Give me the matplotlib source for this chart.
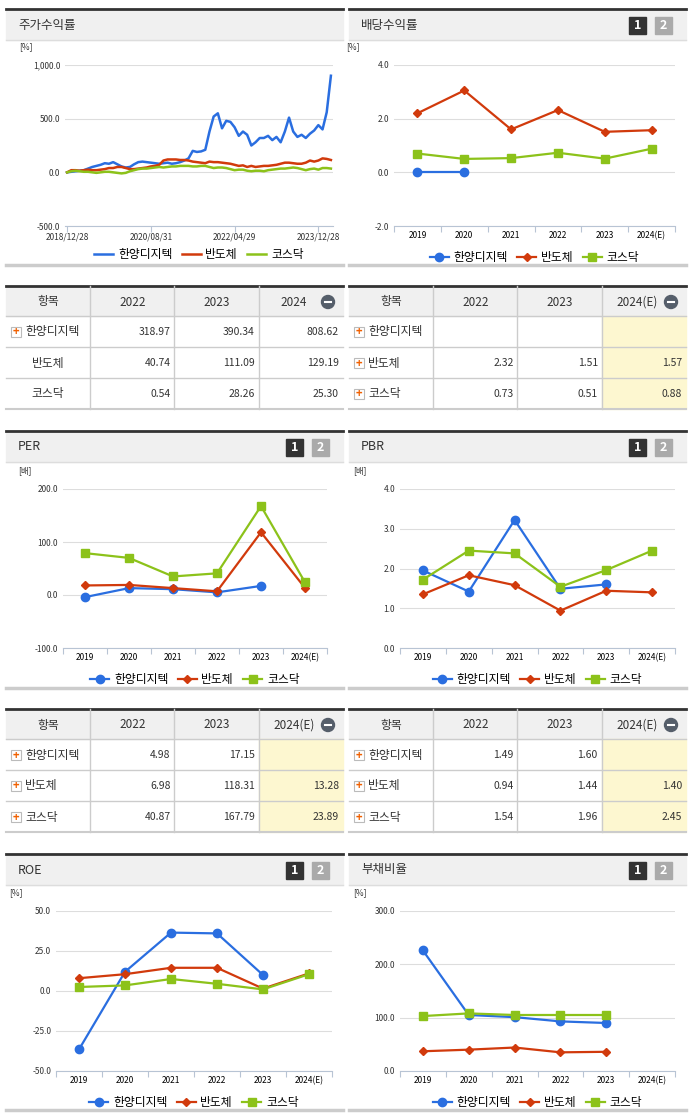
import numpy as np
import matplotlib
matplotlib.use('Agg')
import matplotlib.pyplot as plt
from matplotlib.patches import Rectangle, Circle

plt.rcParams['font.family'] = ['Noto Sans CJK KR', 'DejaVu Sans']

W, H = 691, 1115
names = ['한양디지텍', '반도체', '코스닥']
colors = ['#2a6ee0', '#d13a0c', '#8cc21a']
markers = ['o', 'D', 's']
years = ['2019', '2020', '2021', '2022', '2023', '2024(E)']

# stock return (%)
ret_hy = [0, 5, 10, 15, 20, 35, 50, 60, 70, 85, 80, 95, 75, 55, 45, 50, 75, 95, 100, 95,
          90, 85, 80, 85, 90, 80, 85, 95, 110, 130, 200, 190, 195, 210, 380, 520, 550, 410, 480, 470,
          420, 340, 380, 350, 250, 280, 320, 320, 340, 300, 330, 280, 380, 510, 380, 330, 350, 320, 360, 390,
          440, 400, 560, 900]
ret_semi = [0, 20, 20, 15, 20, 25, 20, 20, 25, 30, 40, 40, 50, 50, 40, 30, 30, 35, 40, 45,
            55, 60, 70, 110, 120, 120, 120, 115, 115, 110, 100, 95, 90, 85, 100, 95, 95, 90, 85, 80,
            70, 60, 65, 50, 60, 50, 55, 60, 60, 65, 70, 80, 90, 90, 85, 80, 80, 90, 110, 100,
            110, 130, 125, 115]
ret_kq = [0, 10, 15, 10, 5, 5, 0, -5, 0, 5, 5, 0, -5, -10, -5, 10, 20, 30, 35, 35,
          40, 45, 50, 45, 50, 55, 55, 60, 60, 60, 55, 55, 60, 60, 50, 40, 45, 45, 40, 30,
          20, 25, 25, 15, 10, 15, 15, 10, 20, 25, 30, 35, 35, 40, 45, 40, 30, 20, 30, 35,
          25, 40, 40, 35]
ret_ticks = [0, 20, 40, 60]
ret_tick_labels = ['2018/12/28', '2020/08/31', '2022/04/29', '2023/12/28']

nan = np.nan
div = [[0, 0, nan, nan, nan, nan], [2.2, 3.05, 1.6, 2.32, 1.51, 1.57], [0.7, 0.5, 0.53, 0.73, 0.51, 0.88]]
per = [[-4, 13, 11, 4.98, 17.15, nan], [18, 19, 13, 6.98, 118.31, 13.28], [79, 70, 35, 40.87, 167.79, 23.89]]
pbr = [[1.95, 1.42, 3.22, 1.49, 1.60, nan], [1.35, 1.83, 1.58, 0.94, 1.44, 1.40], [1.72, 2.45, 2.38, 1.54, 1.96, 2.45]]
roe = [[-36.5, 12, 36.5, 36, 10, nan], [8, 10.5, 14.5, 14.5, 1.5, 11], [2.5, 3.5, 7.5, 4.5, 1, 10.5]]
debt = [[226, 105, 101, 93, 90, nan], [37, 40, 44, 35, 36, nan], [103, 108, 105, 105, 105, nan]]

tbl_ret = [['318.97', '390.34', '808.62'], ['40.74', '111.09', '129.19'], ['0.54', '28.26', '25.30']]
tbl_div = [['', '', ''], ['2.32', '1.51', '1.57'], ['0.73', '0.51', '0.88']]
tbl_per = [['4.98', '17.15', ''], ['6.98', '118.31', '13.28'], ['40.87', '167.79', '23.89']]
tbl_pbr = [['1.49', '1.60', ''], ['0.94', '1.44', '1.40'], ['1.54', '1.96', '2.45']]

fig = plt.figure(figsize=(W / 100, H / 100), dpi=100)
bg = fig.add_axes([0, 0, 1, 1])
bg.set_xlim(0, W)
bg.set_ylim(H, 0)
bg.axis('off')


def fax(x0, y0, x1, y1):
    return fig.add_axes([x0 / W, 1 - y1 / H, (x1 - x0) / W, (y1 - y0) / H])


def panel(x0, x1, ytop, ybot, title, badges=True):
    bg.add_patch(Rectangle((x0, ytop), x1 - x0, 31, color='#f0f0f0', zorder=0))
    bg.plot([x0, x1], [ytop, ytop], color='#333333', lw=2)
    bg.plot([x0, x1], [ytop + 31, ytop + 31], color='#dddddd', lw=1)
    bg.plot([x0, x1], [ybot, ybot], color='#cccccc', lw=2.5)
    bg.text(x0 + 12, ytop + 16, title, fontsize=9, va='center', color='#333')
    if badges:
        for i, (lab, c) in enumerate([('1', '#333333'), ('2', '#aaaaaa')]):
            bx = x1 - 57 + i * 26
            bg.add_patch(Rectangle((bx, ytop + 8), 17, 17, color=c))
            bg.text(bx + 8.5, ytop + 16.5, lab, color='white', fontsize=9,
                    fontweight='bold', ha='center', va='center')


def style(ax, ymin, ymax, step, unit):
    ax.set_ylim(ymin, ymax)
    ax.set_yticks(np.arange(ymin, ymax + step / 2, step))
    ax.set_yticklabels([f'{v:,.1f}' for v in np.arange(ymin, ymax + step / 2, step)])
    ax.grid(axis='y', color='#dddddd', lw=0.8)
    ax.set_axisbelow(True)
    for s in ['top', 'right', 'left']:
        ax.spines[s].set_visible(False)
    ax.spines['bottom'].set_color('#b8c4d4')
    ax.tick_params(axis='y', length=0, labelsize=6, colors='#333')
    ax.tick_params(axis='x', labelsize=6, colors='#333', color='#b8c4d4')
    ax.text(-0.17, 1.1, unit, transform=ax.transAxes, fontsize=6, color='#333')
    ax.set_facecolor('none')


def legend(ax, lines, dy):
    ax.legend(lines, names, loc='upper center', bbox_to_anchor=(0.5, dy), ncol=3,
              frameon=False, fontsize=8.5, handlelength=1.6, columnspacing=0.8, handletextpad=0.4)


def cat_chart(ax, data, ymin, ymax, step, unit):
    style(ax, ymin, ymax, step, unit)
    x = np.arange(6) + 0.5
    lines = []
    for d, c, m in zip(data, colors, markers):
        ms = 4.5 if m == 'D' else 6
        ln, = ax.plot(x, d, color=c, marker=m, ms=ms, lw=1.6)
        lines.append(ln)
    ax.set_xlim(0, 6)
    ax.set_xticks(np.arange(7))
    ax.set_xticklabels([])
    ax.tick_params(axis='x', which='major', length=4)
    ax.set_xticks(x, minor=True)
    ax.set_xticklabels(years, minor=True)
    ax.tick_params(axis='x', which='minor', length=0, labelsize=6)
    legend(ax, lines, -0.09)


def table(x0, x1, y0, rows, head_last, yellow, plain_rows=False):
    cw = (x1 - x0) / 4
    bg.plot([x0, x1], [y0, y0], color='#333333', lw=2)
    bg.add_patch(Rectangle((x0, y0), x1 - x0, 30, color='#f0f0f0', zorder=0))
    if yellow:
        bg.add_patch(Rectangle((x0 + 3 * cw, y0 + 30), cw, 93, color='#fdf7d0', zorder=0))
    heads = ['항목', '2022', '2023', head_last]
    for i, h in enumerate(heads):
        cx = x0 + cw * (i + 0.5) - (7 if i == 3 else 0)
        bg.text(cx, y0 + 16, h, ha='center', va='center', fontsize=8.5, color='#333')
    bg.add_patch(Circle((x0 + 4 * cw - 15, y0 + 16), 6.5, color='#555e6a'))
    bg.plot([x0 + 4 * cw - 18, x0 + 4 * cw - 12], [y0 + 16, y0 + 16], color='white', lw=1.5)
    for r in range(4):
        yy = y0 + 30 + r * 31
        bg.plot([x0, x1], [yy, yy], color='#cccccc', lw=1 if r < 3 else 1.5)
    for c in range(1, 4):
        bg.plot([x0 + c * cw] * 2, [y0, y0 + 123], color='#cccccc', lw=1)
    for r, row in enumerate(rows):
        yc = y0 + 46 + r * 31
        if plain_rows and r > 0:
            bg.text(x0 + cw / 2, yc, names[r], ha='center', va='center', fontsize=8.5, color='#333')
        else:
            bg.add_patch(Rectangle((x0 + 5, yc - 5), 10, 10, facecolor='white', edgecolor='#bbbbbb', lw=0.8))
            bg.text(x0 + 10, yc, '+', ha='center', va='center', fontsize=8, color='#f06000', fontweight='bold')
            bg.text(x0 + 19, yc, names[r], va='center', fontsize=8.5, color='#333')
        for c, v in enumerate(row):
            bg.text(x0 + (c + 2) * cw - 4, yc, v, ha='right', va='center', fontsize=7.5, color='#333')


LX0, LX1, RX0, RX1 = 6, 343, 349, 686

# row 1
panel(LX0, LX1, 9, 265, '주가수익률', badges=False)
panel(RX0, RX1, 9, 265, '배당수익률')
ax = fax(65, 65, 333, 226)
style(ax, -500, 1000, 500, '[%]')
lines = []
for d, c in zip([ret_hy, ret_semi, ret_kq], colors):
    ln, = ax.plot(np.arange(len(d)), d, color=c, lw=1.8)
    lines.append(ln)
ax.set_xlim(-0.5, 63.5)
ax.set_xticks(ret_ticks)
ax.set_xticklabels(ret_tick_labels)
ax.tick_params(axis='x', length=4, pad=1)
legend(ax, lines, -0.07)

ax = fax(394, 65, 675, 226)
cat_chart(ax, div, -2, 4, 2, '[%]')

table(LX0, LX1, 286, tbl_ret, '2024', False, plain_rows=True)
table(RX0, RX1, 286, tbl_div, '2024(E)', True)

# row 2
panel(LX0, LX1, 431, 688, 'PER')
panel(RX0, RX1, 431, 688, 'PBR')
ax = fax(63, 489, 327, 648)
cat_chart(ax, per, -100, 200, 100, '[배]')
ax = fax(400, 489, 675, 648)
cat_chart(ax, pbr, 0, 4, 1, '[배]')

table(LX0, LX1, 709, tbl_per, '2024(E)', True)
table(RX0, RX1, 709, tbl_pbr, '2024(E)', True)

# row 3
panel(LX0, LX1, 854, 1110, 'ROE')
panel(RX0, RX1, 854, 1110, '부채비율')
ax = fax(56, 911, 332, 1071)
cat_chart(ax, roe, -50, 50, 25, '[%]')
ax = fax(400, 911, 675, 1071)
cat_chart(ax, debt, 0, 300, 100, '[%]')

fig.savefig('out.png', dpi=100)
